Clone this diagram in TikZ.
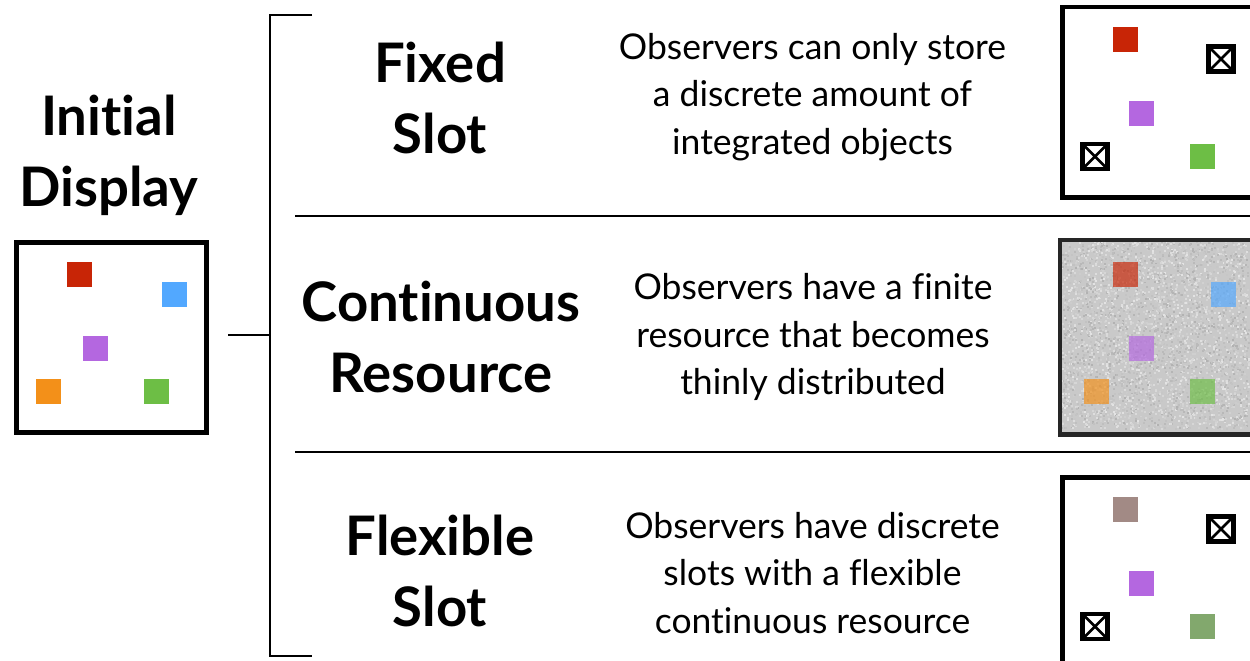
\documentclass[tikz,border=0pt]{standalone}
\usepackage{fontspec}
\setmainfont{Lato}[Ligatures=NoCommon]
\definecolor{objred}{HTML}{C82506}
\definecolor{objblue}{HTML}{52A8FF}
\definecolor{objpurple}{HTML}{B467E0}
\definecolor{objorange}{HTML}{F39019}
\definecolor{objgreen}{HTML}{6DBE45}
\definecolor{objbrown}{HTML}{A28A85}
\definecolor{objsage}{HTML}{82A86D}
\begin{document}
\begin{tikzpicture}[x=1pt,y=-1pt,
  head/.style={font=\fontsize{54.5}{71}\selectfont\bfseries, align=center, inner sep=0pt},
  desc/.style={font=\fontsize{35.5}{47.5}\selectfont, align=center, inner sep=0pt},
  panel/.style={draw=black, line width=4.5pt, fill=white, minimum width=190pt,
    minimum height=190pt, anchor=north west, inner sep=0pt},
  item/.style={fill=#1, minimum size=25pt, inner sep=0pt},
  lost/.style={draw=black, line width=4.5pt, fill=white, minimum size=25pt, inner sep=0pt,
    path picture={\draw[line width=2.6pt]
      (path picture bounding box.north west) -- (path picture bounding box.south east)
      (path picture bounding box.north east) -- (path picture bounding box.south west);}},
  rule/.style={line width=2pt},
  brace/.style={line width=2pt}]
\useasboundingbox (0,0) rectangle (1250,661);
\clip (0,0) rectangle (1250,661);

% ---- initial display ----
\node[head] (title) at (109,155) {Initial\\Display};
\node[panel] (init) at (14,240) {};
\begin{scope}[shift={(init.north west)}]
  \node[item=objred]    (i1) at (65,34.5) {};
  \node[item=objblue]   (i2) at (160.5,54.5) {};
  \node[item=objpurple] (i3) at (81.5,108.5) {};
  \node[item=objorange] (i4) at (34,151.5) {};
  \node[item=objgreen]  (i5) at (142.5,151.5) {};
\end{scope}

% ---- bracket ----
\coordinate (stem) at (228,335);
\coordinate (bmid) at (270,335);
\coordinate (btop) at (270,15);
\coordinate (bbot) at (270,656);
\coordinate (ttop) at (312,15);
\coordinate (tbot) at (312,656);
\draw[brace] (ttop) -- (btop) -- (bbot) -- (tbot);
\draw[brace] (stem) -- (bmid);

% ---- row separators ----
\coordinate (s1a) at (295,216);
\coordinate (s1b) at (1250,216);
\coordinate (s2a) at (295,452);
\coordinate (s2b) at (1250,452);
\draw[rule] (s1a) -- (s1b);
\draw[rule] (s2a) -- (s2b);

% ---- model names ----
\node[head] (fixed) at (440,98) {Fixed\\Slot};
\node[head] (cont)  at (441,337) {Continuous\\Resource};
\node[head] (flex)  at (440,571) {Flexible\\Slot};

% ---- descriptions ----
\node[desc] (dfixed) at (812.5,97) {Observers can only store\\a discrete amount of\\integrated objects};
\node[desc] (dcont)  at (813,337) {Observers have a finite\\resource that becomes\\thinly distributed};
\node[desc] (dflex)  at (812.5,573) {Observers have discrete\\slots with a flexible\\continuous resource};

% ---- fixed slot panel ----
\node[panel] (pfixed) at (1060,5) {};
\begin{scope}[shift={(pfixed.north west)}]
  \node[item=objred]    (f1) at (65,34.5) {};
  \node[lost]           (f2) at (161,54) {};
  \node[item=objpurple] (f3) at (81.5,108.5) {};
  \node[lost]           (f4) at (35,151.5) {};
  \node[item=objgreen]  (f5) at (142.5,151.5) {};
\end{scope}

% ---- continuous resource panel: noisy grey field ----
\node[panel, fill=black!21, draw=none] (pcont) at (1060,240) {};
\begin{scope}
  \clip (1060,240) rectangle (1250,430);
  \pgfmathsetseed{11}
  \foreach \k in {1,...,4200}{
    \pgfmathsetmacro\nx{1061+187*rnd}
    \pgfmathsetmacro\ny{241+187*rnd}
    \pgfmathtruncatemacro\ng{11+20*rnd}
    \fill[black!\ng] (\nx,\ny) rectangle ++(2,2);
  }
\end{scope}
\begin{scope}[shift={(pcont.north west)}, every node/.append style={opacity=0.68}]
  \node[item=objred]    (c1) at (65,34.5) {};
  \node[item=objblue]   (c2) at (163,54.5) {};
  \node[item=objpurple] (c3) at (81.5,108.5) {};
  \node[item=objorange] (c4) at (36,151.5) {};
  \node[item=objgreen]  (c5) at (142.5,151.5) {};
\end{scope}
\draw[draw=black!85, line width=4.5pt] (pcont.north west) rectangle (pcont.south east);

% ---- flexible slot panel ----
\node[panel] (pflex) at (1060,475) {};
\begin{scope}[shift={(pflex.north west)}]
  \node[item=objbrown]  (x1) at (65,34.5) {};
  \node[lost]           (x2) at (161,54) {};
  \node[item=objpurple] (x3) at (81.5,108.5) {};
  \node[lost]           (x4) at (35,151.5) {};
  \node[item=objsage]   (x5) at (142.5,151.5) {};
\end{scope}
\end{tikzpicture}
\end{document}
